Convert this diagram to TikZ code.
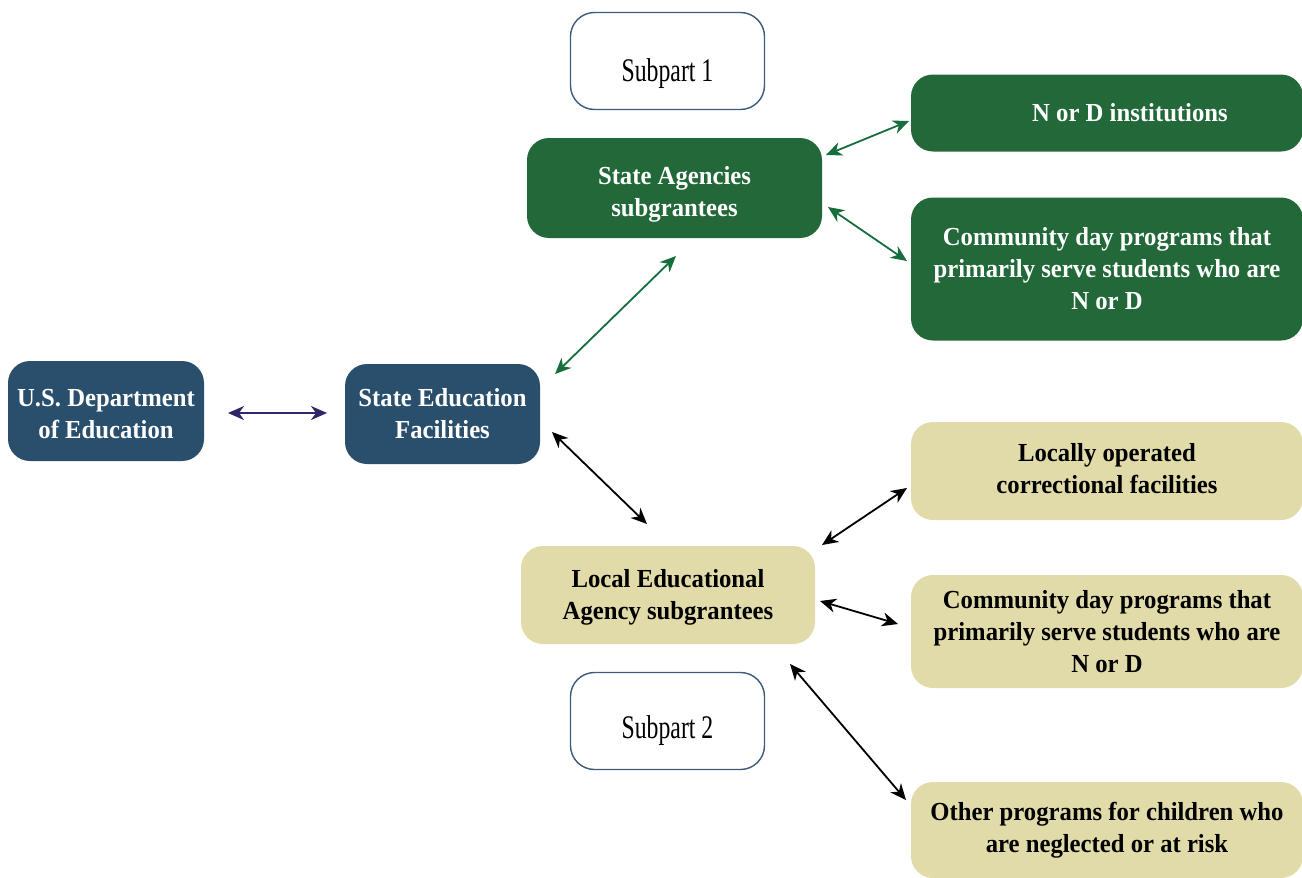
\documentclass[tikz,border=0pt]{standalone}
\usepackage{fontspec}
\setmainfont{Liberation Serif}
\newfontfamily\subfont[FakeStretch=0.72]{Liberation Serif}
\newfontfamily\boxfont[FakeStretch=0.95]{Liberation Serif}
\usetikzlibrary{arrows.meta}
\definecolor{dblue}{RGB}{41,79,109}
\definecolor{dgreen}{RGB}{34,104,56}
\definecolor{tan}{RGB}{224,219,168}
\definecolor{subborder}{RGB}{60,92,122}
\definecolor{indigo}{RGB}{46,40,104}
\definecolor{agreen}{RGB}{22,110,60}
\begin{document}
\begin{tikzpicture}[x=1pt,y=-1pt,
  box/.style={rounded corners=22pt, align=center, inner sep=0pt,
    font=\boxfont\bfseries\fontsize{26}{32}\selectfont},
  bluebox/.style={box, fill=dblue, text=white},
  greenbox/.style={box, fill=dgreen, text=white},
  tanbox/.style={box, fill=tan, text=black},
  subbox/.style={rounded corners=24pt, draw=subborder, line width=1.4pt, fill=white,
    minimum width=194pt, minimum height=97pt, inner sep=0pt,
    font=\subfont\fontsize{33}{36}\selectfont},
  arr/.style={{Stealth[length=16pt,width=14pt,inset=5pt]}-{Stealth[length=16pt,width=14pt,inset=5pt]}, line width=1.8pt}
]
\useasboundingbox (0,0) rectangle (1302,878);

% nodes
\node[bluebox, minimum width=196pt, minimum height=100pt] (doe) at (106,411)
  {\rule{0pt}{24pt}U.S. Department\\of Education};
\node[bluebox, minimum width=195pt, minimum height=100pt] (sef) at (442.5,414)
  {State Education\\Facilities};
\node[subbox, text height=45pt, text depth=5pt] (sub1) at (667.5,61) {Subpart 1};
\node[greenbox, minimum width=295pt, minimum height=100pt] (sa) at (674.5,188)
  {\rule{0pt}{30pt}State Agencies\\subgrantees};
\node[greenbox, minimum width=392pt, minimum height=77pt] (nd) at (1107,113)
  {\hspace*{46pt}N or D institutions};
\node[greenbox, minimum width=392pt, minimum height=143pt] (cg) at (1107,269)
  {Community day programs that\\primarily serve students who are\\N or D};
\node[tanbox, minimum width=294pt, minimum height=98pt] (lea) at (668,595)
  {\rule{0pt}{22pt}Local Educational\\Agency subgrantees};
\node[tanbox, minimum width=392pt, minimum height=98pt] (loc) at (1107,471)
  {Locally operated\\correctional facilities\rule[-6pt]{0pt}{6pt}};
\node[tanbox, minimum width=392pt, minimum height=113pt] (ct) at (1107,631.5)
  {Community day programs that\\primarily serve students who are\\N or D};
\node[tanbox, minimum width=392pt, minimum height=96pt] (oth) at (1107,830)
  {Other programs for children who\\are neglected or at risk};
\node[subbox, text height=39pt, text depth=5pt] (sub2) at (667.5,721) {Subpart 2};

% connector end points
\coordinate (doeE) at (228,413);
\coordinate (sefW) at (327,413);
\coordinate (sefNE) at (555,374);
\coordinate (saS) at (676,256);
\coordinate (saE1) at (826,155);
\coordinate (ndW) at (909,121);
\coordinate (saE2) at (828,207);
\coordinate (cgW) at (907,261);
\coordinate (sefSE) at (552,432);
\coordinate (leaN) at (647,524);
\coordinate (leaE1) at (822,545);
\coordinate (locW) at (907,488);
\coordinate (leaE2) at (820,601);
\coordinate (ctW) at (898,624);
\coordinate (leaE3) at (790,664);
\coordinate (othW) at (906,800);

% connectors
\draw[arr, indigo] (doeE) -- (sefW);
\draw[arr, agreen] (sefNE) -- (saS);
\draw[arr, agreen] (saE1) -- (ndW);
\draw[arr, agreen] (saE2) -- (cgW);
\draw[arr, black] (sefSE) -- (leaN);
\draw[arr, black] (leaE1) -- (locW);
\draw[arr, black] (leaE2) -- (ctW);
\draw[arr, black] (leaE3) -- (othW);
\end{tikzpicture}
\end{document}
